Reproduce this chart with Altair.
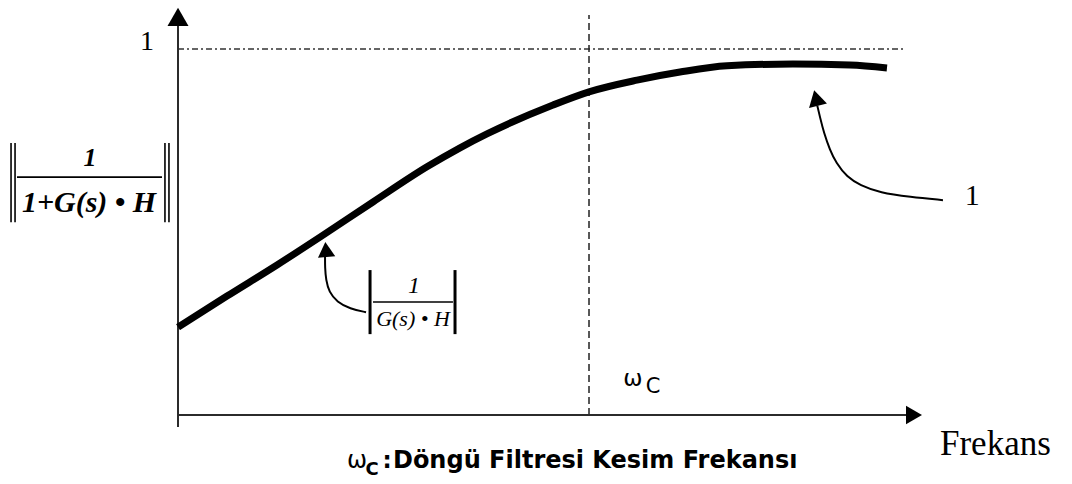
import altair as alt
import pandas as pd

# Frequency runs in units where the loop-filter cutoff sits at 4;
# magnitude is normalised so the closed-loop ceiling is 1.
X_DOMAIN = [-1.7324, 8.7007]
Y_DOMAIN = [-0.1885, 1.1339]

# |1 / (1 + G(s)H)| versus frequency
freq = [0, 0.477, 0.964, 1.382, 1.898, 2.423, 2.745, 3.007, 3.650, 4.0, 4.467, 4.886, 5.343, 5.985, 6.540, 6.900]
mag = [0.240, 0.325, 0.410, 0.486, 0.582, 0.678, 0.730, 0.768, 0.847, 0.883, 0.915, 0.937, 0.954, 0.959, 0.956, 0.948]

w_c = 4.0        # loop-filter cutoff
unity = 1.0      # asymptote
x_end = 7.075    # end of the reference line
y_top = 1.093    # top of the cutoff marker

# axis lines and their arrowheads
axis_v = {"x": [0, 0], "y": [-0.033, 1.079]}
axis_h = {"x": [0, 7.124], "y": [0, 0]}
head_v = {"x": 0, "y": 1.088}
head_h = {"x": 7.163, "y": 0}

# curved pointer from the |1/(G(s)H)| label to the low-frequency part
ptr1_x = [1.830, 1.674, 1.547, 1.470, 1.440, 1.431, 1.431]
ptr1_y = [0.281, 0.290, 0.309, 0.336, 0.369, 0.402, 0.432]
ptr1_head = {"x": 1.440, "y": 0.452, "angle": 355}

# curved pointer from the "1" label to the flat part
ptr2_x = [7.445, 7.124, 6.832, 6.637, 6.511, 6.404, 6.345, 6.287, 6.248, 6.222]
ptr2_y = [0.587, 0.596, 0.607, 0.628, 0.650, 0.689, 0.724, 0.770, 0.814, 0.845]
ptr2_head = {"x": 6.210, "y": 0.866, "angle": 346}

X = lambda f="x": alt.X(f"{f}:Q", scale=alt.Scale(domain=X_DOMAIN, nice=False, zero=False), axis=None)
Y = lambda f="y": alt.Y(f"{f}:Q", scale=alt.Scale(domain=Y_DOMAIN, nice=False, zero=False), axis=None)

AXIS_COLOR = "#2b2b2b"
SERIF = "Liberation Serif"
SANS = "DejaVu Sans"


def path_layer(xs, ys, width, color="black", dash=None, interp="linear"):
    df = pd.DataFrame({"x": xs, "y": ys, "o": range(len(xs))})
    kw = dict(color=color, strokeWidth=width, interpolate=interp, strokeCap="butt")
    if dash:
        kw["strokeDash"] = dash
    return alt.Chart(df).mark_line(**kw).encode(x=X(), y=Y(), order="o:Q")


def head_layer(pts, shape, size, color="black"):
    df = pd.DataFrame(pts)
    enc = dict(x=X(), y=Y())
    if "angle" in df:
        enc["angle"] = alt.Angle("angle:Q", scale=None)
    return alt.Chart(df).mark_point(shape=shape, size=size, filled=True, opacity=1,
                                    color=color, strokeWidth=0).encode(**enc)


def text_layer(rows, **style):
    df = pd.DataFrame(rows)
    return alt.Chart(df).mark_text(color="black", **style).encode(x=X(), y=Y(), text="t:N")


def rule_v(xs, y0, y1, width=1.6):
    df = pd.DataFrame({"x": xs, "y": [y0] * len(xs), "y2": [y1] * len(xs)})
    return alt.Chart(df).mark_rule(color="black", strokeWidth=width).encode(
        x=X(), y=Y(), y2="y2:Q")


def rule_h(x0, x1, y, width=1.6):
    df = pd.DataFrame({"x": [x0], "x2": [x1], "y": [y]})
    return alt.Chart(df).mark_rule(color="black", strokeWidth=width).encode(
        x=X(), x2="x2:Q", y=Y())


layers = [
    # unity reference (dash-dot) and cutoff marker (dashed)
    path_layer([0, x_end], [unity, unity], 1.5, color="#333333", dash=[6, 3, 2, 3]),
    path_layer([w_c, w_c], [0, y_top], 1.5, color="#222222", dash=[7, 4]),
    # axes
    path_layer(axis_v["x"], axis_v["y"], 2, color=AXIS_COLOR),
    path_layer(axis_h["x"], axis_h["y"], 2, color=AXIS_COLOR),
    head_layer([head_v], "triangle-up", 440),
    head_layer([head_h], "triangle-right", 340),
    # response curve
    path_layer(freq, mag, 7, interp="monotone"),
    # pointers
    path_layer(ptr1_x, ptr1_y, 2, interp="basis"),
    head_layer([ptr1_head], "triangle-up", 300),
    path_layer(ptr2_x, ptr2_y, 2, interp="basis"),
    head_layer([ptr2_head], "triangle-up", 340),
    # value label on the vertical axis
    text_layer([{"x": -0.302, "y": 0.997, "t": "1"}], font=SERIF, fontSize=28,
               align="center", baseline="alphabetic"),
    # y-axis title: || 1 / (1+G(s)•H) ||
    text_layer([{"x": -0.856, "y": 0.680, "t": "1"}], font=SERIF, fontSize=26,
               fontStyle="italic", fontWeight="bold", align="center", baseline="alphabetic"),
    rule_h(-1.567, -0.156, 0.650, width=1.8),
    text_layer([{"x": -0.866, "y": 0.555, "t": "1+G(s) \u2022 H"}], font=SERIF, fontSize=30,
               fontStyle="italic", fontWeight="bold", align="center", baseline="alphabetic"),
    rule_v([-1.625, -1.586, -0.127, -0.088], 0.743, 0.527, width=1.6),
    # |1 / (G(s)•H)| label
    text_layer([{"x": 2.297, "y": 0.333, "t": "1"}], font=SERIF, fontSize=24,
               fontStyle="italic", align="center", baseline="alphabetic"),
    rule_h(1.898, 2.676, 0.309, width=1.5),
    text_layer([{"x": 2.287, "y": 0.243, "t": "G(s) \u2022 H"}], font=SERIF, fontSize=22,
               fontStyle="italic", align="center", baseline="alphabetic"),
    rule_v([1.869, 2.696], 0.396, 0.221, width=3),
    # "1" label for the flat part
    text_layer([{"x": 7.73, "y": 0.574, "t": "1"}], font=SERIF, fontSize=30,
               align="center", baseline="alphabetic"),
    # cutoff symbol near the marker
    text_layer([{"x": 4.428, "y": 0.079, "t": "\u03c9"}], font=SANS, fontSize=23,
               align="center", baseline="alphabetic"),
    text_layer([{"x": 4.623, "y": 0.060, "t": "C"}], font=SANS, fontSize=21,
               align="center", baseline="alphabetic"),
    # horizontal axis title
    text_layer([{"x": 7.416, "y": -0.109, "t": "Frekans"}], font=SERIF, fontSize=35,
               align="left", baseline="alphabetic"),
    # caption
    text_layer([{"x": 1.742, "y": -0.144, "t": "\u03c9"}], font=SANS, fontSize=24,
               align="center", baseline="alphabetic"),
    text_layer([{"x": 1.888, "y": -0.164, "t": "C"}], font=SANS, fontSize=18, fontWeight="bold",
               align="center", baseline="alphabetic"),
    text_layer([{"x": 2.034, "y": -0.144, "t": ":"}], font=SANS, fontSize=23, fontWeight="bold",
               align="center", baseline="alphabetic"),
    text_layer([{"x": 2.092, "y": -0.144, "t": "D\u00f6ng\u00fc Filtresi Kesim Frekans\u0131"}],
               font=SANS, fontSize=24, fontWeight="bold", align="left", baseline="alphabetic"),
]

chart = alt.layer(*layers).properties(
    width=1072, height=484, padding=0, autosize="none", background="white"
).configure_view(stroke=None)

chart.save("out.html", embed_options={"renderer": "svg", "actions": False})
